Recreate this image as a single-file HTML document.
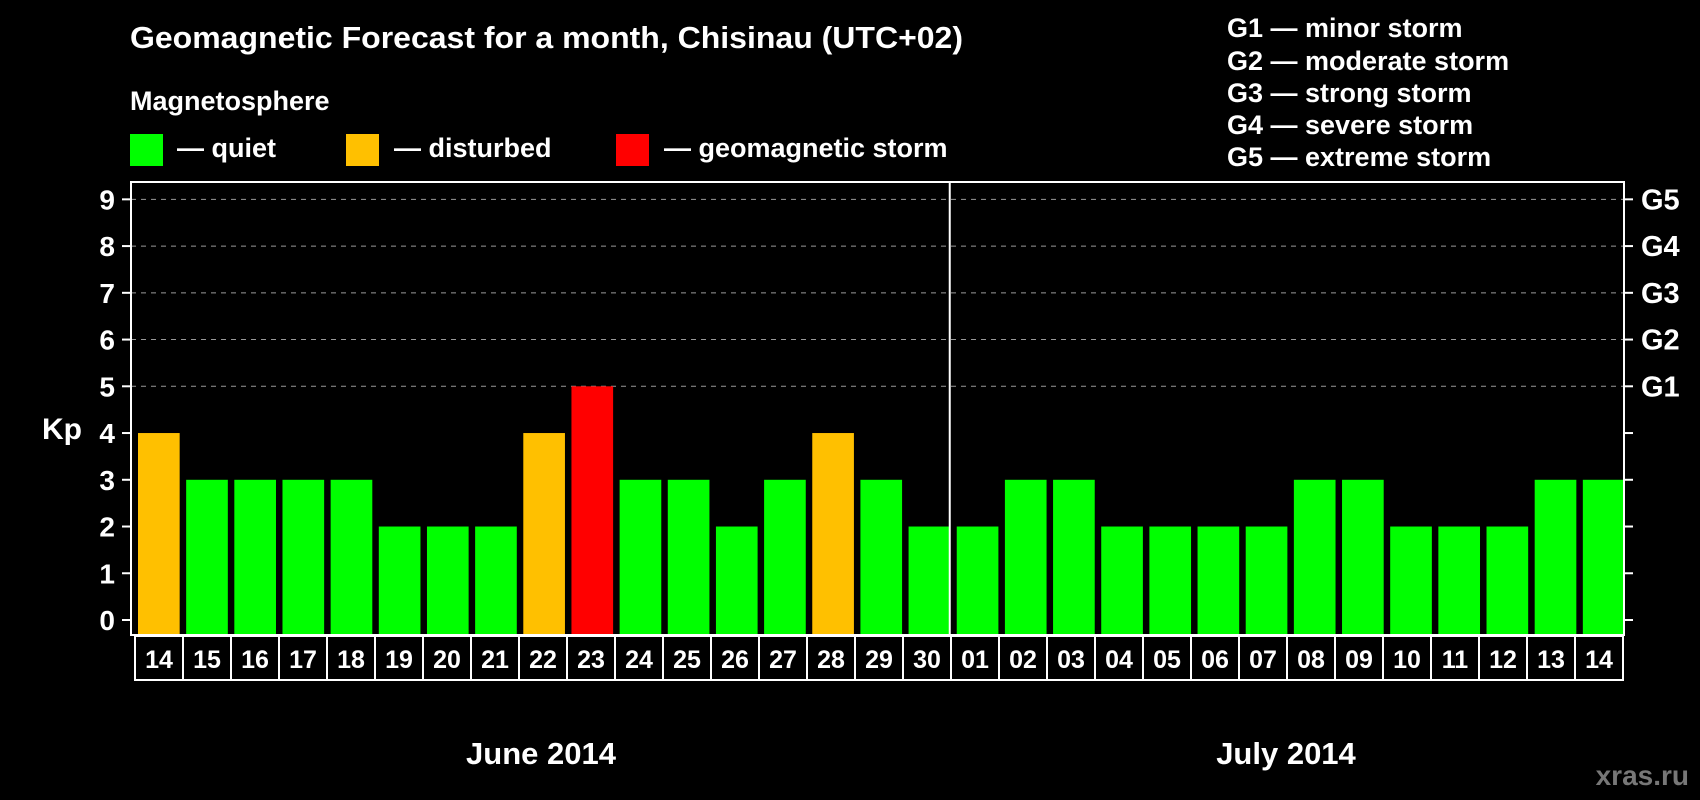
<!DOCTYPE html>
<html><head><meta charset="utf-8"><style>
html,body{margin:0;padding:0;background:#000;}
svg{display:block;font-family:"Liberation Sans",Arial,sans-serif;font-weight:bold;}
</style></head><body>
<svg id="chart" width="1700" height="800" viewBox="0 0 1700 800" xmlns="http://www.w3.org/2000/svg">
<rect width="1700" height="800" fill="#000"/>
<text x="130" y="48" fill="#fff" font-size="31" textLength="833" lengthAdjust="spacingAndGlyphs">Geomagnetic Forecast for a month, Chisinau (UTC+02)</text>
<text x="130" y="110" fill="#fff" font-size="27">Magnetosphere</text>
<rect x="130" y="134" width="33" height="32" fill="#00ff00"/>
<text x="177" y="157" fill="#fff" font-size="27">— quiet</text>
<rect x="346" y="134" width="33" height="32" fill="#ffc000"/>
<text x="394" y="157" fill="#fff" font-size="27">— disturbed</text>
<rect x="616" y="134" width="33" height="32" fill="#ff0000"/>
<text x="664" y="157" fill="#fff" font-size="27">— geomagnetic storm</text>
<g fill="#fff" font-size="27">
<text x="1227" y="37">G1 — minor storm</text>
<text x="1227" y="70">G2 — moderate storm</text>
<text x="1227" y="102">G3 — strong storm</text>
<text x="1227" y="134">G4 — severe storm</text>
<text x="1227" y="166">G5 — extreme storm</text>
</g>
<text x="42" y="439" fill="#fff" font-size="30">Kp</text>
<text x="541" y="764" fill="#fff" font-size="31" text-anchor="middle">June 2014</text>
<text x="1286" y="764" fill="#fff" font-size="31" text-anchor="middle">July 2014</text>
<text x="1689" y="785" fill="#777" font-size="28" text-anchor="end">xras.ru</text>
<g id="plot"></g>
</svg>
<script>
const days = ["14","15","16","17","18","19","20","21","22","23","24","25","26","27","28","29","30","01","02","03","04","05","06","07","08","09","10","11","12","13","14"];
const kpValues = [4,3,3,3,3,2,2,2,4,5,3,3,2,3,4,3,2,2,3,3,2,2,2,2,3,3,2,2,2,3,3];
const yTicks = [0,1,2,3,4,5,6,7,8,9];
const gLabels = ["G1","G2","G3","G4","G5"];
const gLevels = [5,6,7,8,9];
const monthSplit = 17;

const NS="http://www.w3.org/2000/svg";
const g=document.getElementById('plot');
const L=131,R=1624,T=182,B=635;
const step=(R-L)/days.length;
const y=v=>620-46.74*v;
const x=i=>L+i*step;
function mk(t,a){const e=document.createElementNS(NS,t);for(const k in a)e.setAttribute(k,a[k]);g.appendChild(e);return e;}
gLevels.forEach(v=>{
  const e=mk('line',{x1:L,x2:R,y1:y(v),y2:y(v),stroke:'#999','stroke-dasharray':'5,5','stroke-width':1});
  
  
});
kpValues.forEach((v,i)=>{
  const c=v>=5?'#ff0000':(v>=4?'#ffc000':'#00ff00');
  const e=mk('rect',{x:x(i)+7,y:y(v),width:step-6.5,height:B-y(v),fill:c});
  
  
});
const fr=mk('rect',{x:L,y:T,width:R-L,height:B-T,fill:'none',stroke:'#fff','stroke-width':2});


const sp=mk('line',{x1:x(monthSplit),x2:x(monthSplit),y1:T,y2:B,stroke:'#fff','stroke-width':2});


yTicks.forEach(v=>{
  const t1=mk('line',{x1:L-9,x2:L,y1:y(v),y2:y(v),stroke:'#fff','stroke-width':2});
  
  
  const t2=mk('line',{x1:R,x2:R+9,y1:y(v),y2:y(v),stroke:'#fff','stroke-width':2});
  
  
  const tx=mk('text',{x:115,y:y(v)+10,fill:'#fff','font-size':28,'text-anchor':'end'});
  tx.textContent=v;
  
  
});
gLabels.forEach((lab,i)=>{
  const tx=mk('text',{x:1641,y:y(gLevels[i])+10,fill:'#fff','font-size':29});
  tx.textContent=lab;
  
  
});
const bx0=135,bw=(1623-135)/days.length;
const box=mk('rect',{x:bx0,y:636,width:1623-bx0,height:44,fill:'none',stroke:'#fff','stroke-width':2});


days.forEach((d,i)=>{
  if(i>0){const l=mk('line',{x1:bx0+i*bw,x2:bx0+i*bw,y1:636,y2:680,stroke:'#fff','stroke-width':2});
    
    }
  const t=mk('text',{x:bx0+(i+0.5)*bw,y:668,fill:'#fff','font-size':25,'text-anchor':'middle'});
  t.textContent=d;
  
  
});
</script>
</body></html>
